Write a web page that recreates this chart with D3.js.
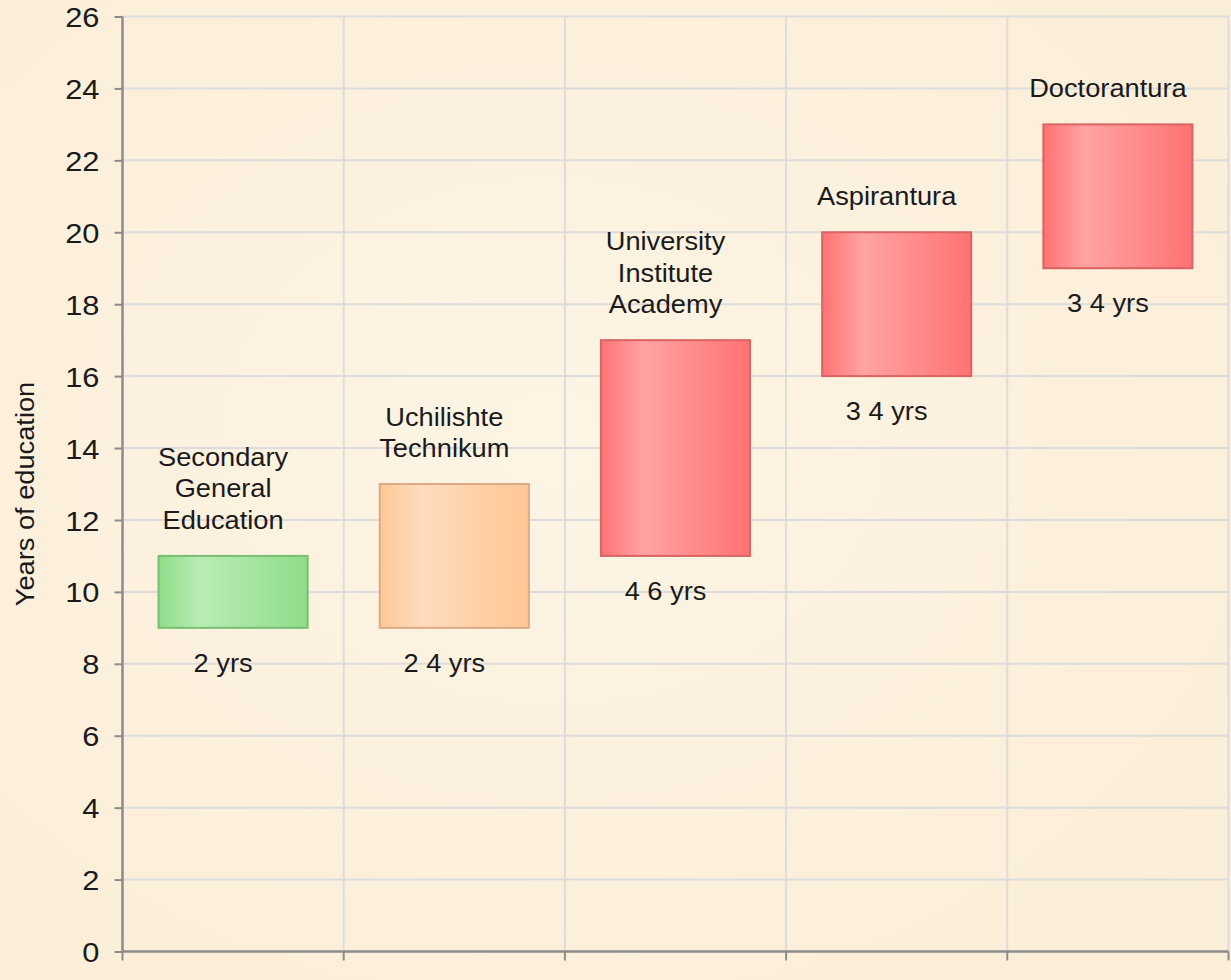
<!DOCTYPE html>
<html>
<head>
<meta charset="utf-8">
<script src="https://cdn.jsdelivr.net/npm/d3@7/dist/d3.min.js"></script>
<style>
  html, body { margin: 0; padding: 0; background: #fcf2e0; }
  svg { display: block; }
  text { font-family: "Liberation Sans", Arial, sans-serif; fill: #1a1a1a; }
</style>
</head>
<body>
<svg id="chart" width="1231" height="980"></svg>
<script>
const categories = ["Secondary General Education", "Uchilishte Technikum", "University Institute Academy", "Aspirantura", "Doctorantura"];
const topLabels = [["Secondary", "General", "Education"], ["Uchilishte", "Technikum"], ["University", "Institute", "Academy"], ["Aspirantura"], ["Doctorantura"]];
const startYears = [9, 9, 11, 16, 19];
const endYears = [11, 13, 17, 20, 23];
const durationLabels = ["2 yrs", "2 4 yrs", "4 6 yrs", "3 4 yrs", "3 4 yrs"];
const colorGroups = ["green", "orange", "red", "red", "red"];
const yTicks = [0, 2, 4, 6, 8, 10, 12, 14, 16, 18, 20, 22, 24, 26];
const yTitle = "Years of education";

const W = 1231, H = 980;
const margin = { left: 122.5, right: 2.5, top: 16.5, bottom: 28.5 };
const svg = d3.select("#chart");

// background
const defs = svg.append("defs");
const bg = defs.append("radialGradient").attr("id", "bgGrad").attr("cx", "45%").attr("cy", "45%").attr("r", "70%");
bg.append("stop").attr("offset", "0%").attr("stop-color", "#fdf4e4");
bg.append("stop").attr("offset", "100%").attr("stop-color", "#fbeed8");
svg.append("rect").attr("width", W).attr("height", H).attr("fill", "url(#bgGrad)");

const palettes = {
  green: { edge: "#8fdc89", light: "#b9ecb4", stroke: "#78bf73" },
  orange: { edge: "#ffc795", light: "#ffdcbc", stroke: "#dcaa86" },
  red: { edge: "#ff7272", light: "#ffa3a3", stroke: "#d86464" }
};
Object.entries(palettes).forEach(([k, p]) => {
  const g = defs.append("linearGradient").attr("id", "grad-" + k).attr("x1", "0%").attr("x2", "100%").attr("y1", "0%").attr("y2", "0%");
  g.append("stop").attr("offset", "0%").attr("stop-color", p.edge);
  g.append("stop").attr("offset", "28%").attr("stop-color", p.light);
  g.append("stop").attr("offset", "100%").attr("stop-color", p.edge);
});

const x = d3.scaleBand()
  .domain(categories)
  .range([margin.left, W - margin.right])
  .paddingInner(0.326)
  .paddingOuter(0.163);

const y = d3.scaleLinear()
  .domain([0, 26])
  .range([H - margin.bottom, margin.top]);

const step = x.step();
const boundaries = categories.map(c => x(c) - x.paddingOuter() * step).concat([W - margin.right]);

// gridlines
const grid = svg.append("g");
grid.selectAll("line.h").data(yTicks.filter(d => d > 0)).join("line")
  .attr("x1", margin.left).attr("x2", W - margin.right)
  .attr("y1", d => y(d)).attr("y2", d => y(d))
  .attr("stroke", "#dcdcdc").attr("stroke-width", 2);
grid.selectAll("line.v").data(boundaries.slice(1)).join("line")
  .attr("x1", d => d).attr("x2", d => d)
  .attr("y1", y(26)).attr("y2", y(0))
  .attr("stroke", "#dcdcdc").attr("stroke-width", 2);

// y axis
const yAxis = svg.append("g")
  .attr("transform", `translate(${margin.left},0)`)
  .call(d3.axisLeft(y).tickValues(yTicks).tickSize(8).tickFormat(""));
yAxis.select(".domain").attr("stroke", "#8c8c8c").attr("stroke-width", 2.5).attr("d", `M0,${y(26)}V${y(0)}`);
yAxis.selectAll(".tick line").attr("stroke", "#8c8c8c").attr("stroke-width", 2);
yAxis.selectAll(".tick text").remove();
yAxis.selectAll(".tick").append("text")
  .attr("transform", "translate(-23,0) scale(1.1,1)")
  .attr("text-anchor", "end")
  .attr("dy", "0.36em")
  .attr("font-size", 28)
  .attr("fill", "#222")
  .attr("font-family", "'Liberation Sans', Arial, sans-serif")
  .text(d => d3.format("d")(d));

// x axis (boundary ticks)
const xAxisG = svg.append("g");
xAxisG.append("line")
  .attr("x1", margin.left).attr("x2", W - margin.right)
  .attr("y1", y(0)).attr("y2", y(0))
  .attr("stroke", "#8c8c8c").attr("stroke-width", 2.5);
xAxisG.selectAll("line.tk").data(boundaries).join("line")
  .attr("x1", d => d).attr("x2", d => d)
  .attr("y1", y(0)).attr("y2", y(0) + 9)
  .attr("stroke", "#8c8c8c").attr("stroke-width", 2);

// y title
svg.append("text")
  .attr("transform", `translate(34,${(y(0) + y(26)) / 2 + 10}) rotate(-90) scale(1.09,1)`)
  .attr("text-anchor", "middle")
  .attr("font-size", 25)
  .attr("fill", "#222")
  .text(yTitle);

// bars
const data = categories.map((c, i) => ({ c, s: startYears[i], e: endYears[i], top: topLabels[i], dur: durationLabels[i], col: colorGroups[i] }));

svg.append("g").selectAll("rect").data(data).join("rect")
  .attr("x", d => x(d.c))
  .attr("width", x.bandwidth())
  .attr("y", d => y(d.e))
  .attr("height", d => y(d.s) - y(d.e))
  .attr("fill", d => `url(#grad-${d.col})`)
  .attr("stroke", d => palettes[d.col].stroke)
  .attr("stroke-width", 2);

// labels
const lineH = 31.5;
const labelShift = -10;
const lab = svg.append("g");
function addLabel(px, py, t) {
  lab.append("text")
    .attr("transform", `translate(${px},${py}) scale(1.09,1)`)
    .attr("text-anchor", "middle")
    .attr("font-size", 25)
    .text(t);
}
data.forEach(d => {
  const cx = x(d.c) + x.bandwidth() / 2 + labelShift;
  const n = d.top.length;
  d.top.forEach((t, k) => addLabel(cx, y(d.e) - 27 - (n - 1 - k) * lineH, t));
  addLabel(cx, y(d.s) + 44, d.dur);
});
</script>
</body>
</html>
